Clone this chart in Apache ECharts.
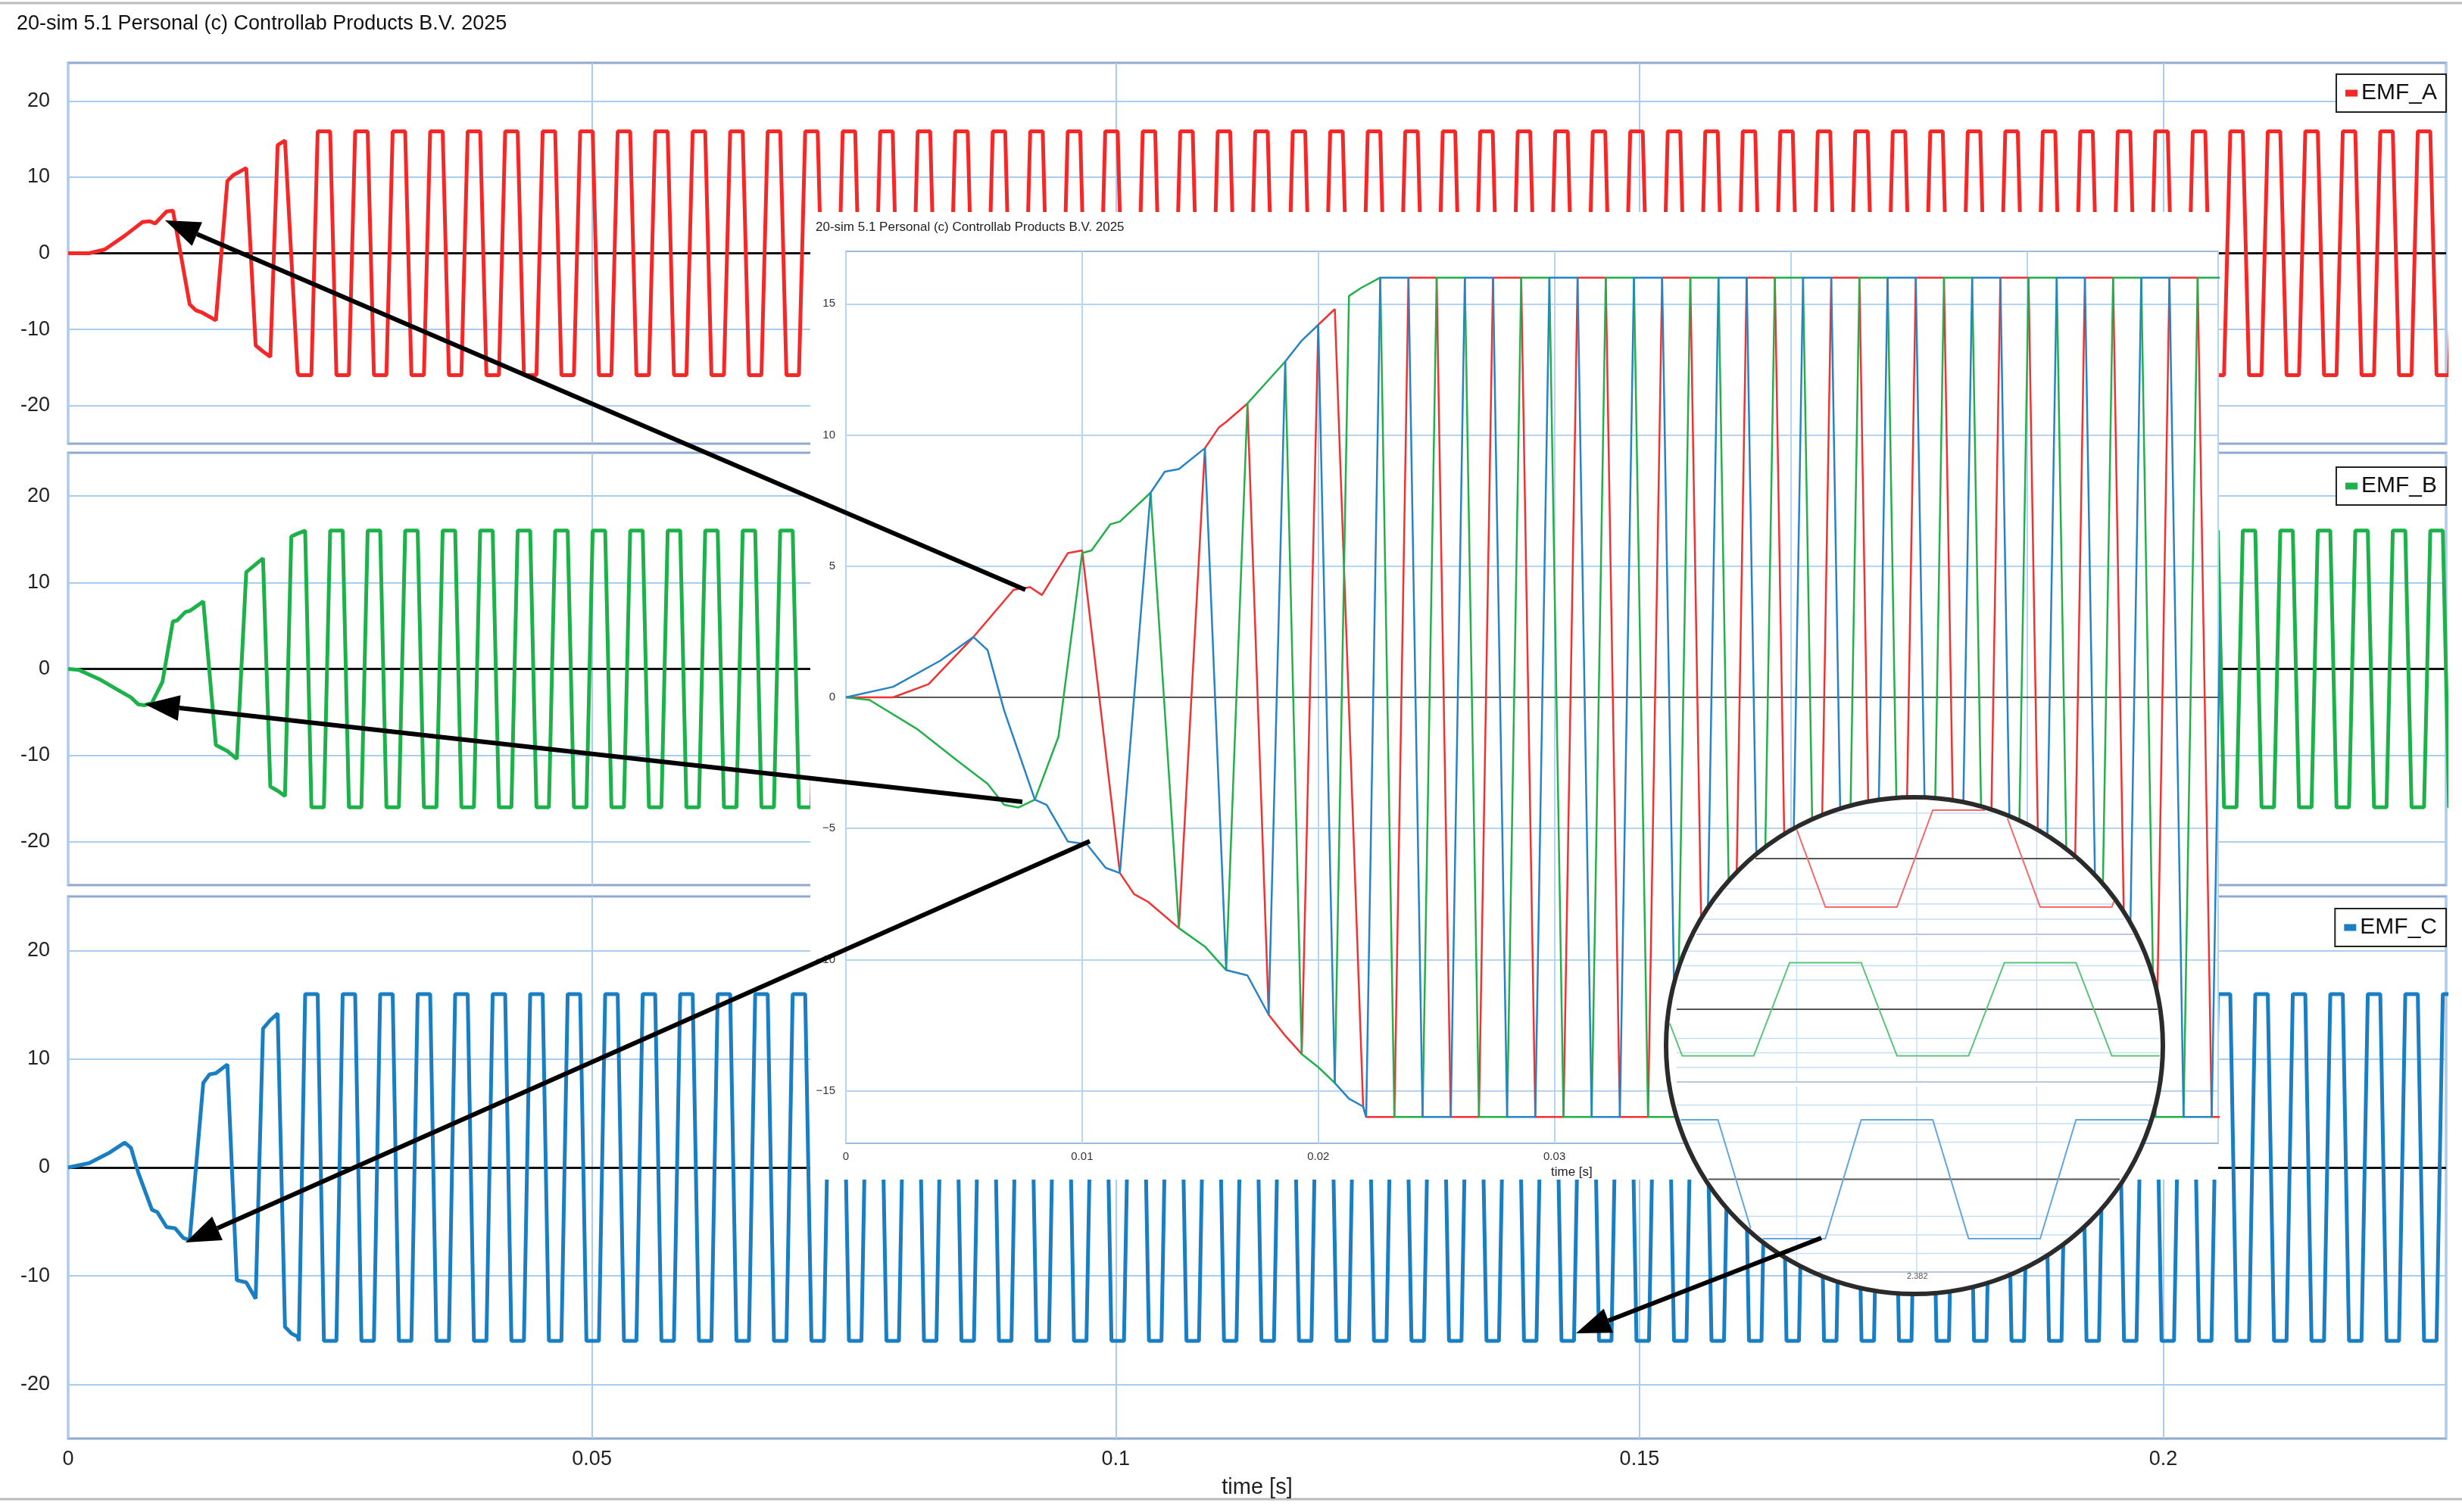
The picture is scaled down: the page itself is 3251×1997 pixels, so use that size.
<!DOCTYPE html><html><head><meta charset="utf-8">
<script src="https://cdn.jsdelivr.net/npm/echarts@6/dist/echarts.min.js"></script>
<style>html,body{margin:0;padding:0;background:#fff}#c{width:3251px;height:1997px}</style>
</head><body><div id="c"></div><script>
const TITLE = '20-sim 5.1 Personal (c) Controllab Products B.V. 2025';
const SERIES_NAMES = ['EMF_A', 'EMF_B', 'EMF_C'];
const Y_TICKS = [20, 10, 0, -10, -20];
const INSET_Y_TICKS = [15, 10, 5, 0, -5, -10, -15];
const X_MAX = 0.227;
const INSET_X_MAX = 0.0581;
// start-up transient: [time s, EMF]
const START_A = [[0,0],[0.002,0],[0.0035,0.5],[0.0054,2.3],[0.0071,4.1],[0.0078,4.2],[0.0083,3.9],[0.0094,5.5],[0.0100,5.6],[0.0116,-6.7],[0.0122,-7.5],[0.0128,-7.8],[0.0141,-8.8],[0.0152,9.5],[0.0158,10.3],[0.0161,10.5],[0.0170,11.2],[0.0179,-12.1],[0.0186,-12.9],[0.0193,-13.6],[0.0200,14.2],[0.0207,14.8],[0.0219,-15.6]];
const START_B = [[0,0],[0.001,-0.1],[0.0030,-1.2],[0.0047,-2.4],[0.0060,-3.3],[0.0067,-4.1],[0.0073,-4.2],[0.0080,-3.9],[0.0090,-1.5],[0.0100,5.5],[0.0104,5.6],[0.0112,6.6],[0.0116,6.7],[0.0129,7.8],[0.0141,-8.8],[0.0152,-9.5],[0.0161,-10.4],[0.0170,11.2],[0.0179,12.1],[0.0186,12.8],[0.0193,-13.6],[0.0200,-14.1],[0.0207,-14.7],[0.0213,15.3],[0.0218,15.6]];
const START_C = [[0,0],[0.002,0.4],[0.0040,1.4],[0.0054,2.3],[0.0060,1.8],[0.0067,-0.5],[0.0080,-3.9],[0.0085,-4.1],[0.0094,-5.5],[0.0102,-5.6],[0.0110,-6.5],[0.0116,-6.7],[0.0129,7.8],[0.0135,8.6],[0.0141,8.7],[0.0152,9.5],[0.0161,-10.4],[0.0170,-10.6],[0.0179,-12.1],[0.0186,12.8],[0.0193,13.6],[0.0200,14.2],[0.0207,-14.7],[0.0213,-15.3],[0.0219,-15.6]];
// steady trapezoidal back-EMF
const PERIOD = 0.00358;
const AMP = 16;
const RISE_A = 0.02352;
const PHASE_SHIFT = [0, 1/3, -1/3];
const TRAP_SHAPE = [[1/12,1],[5/12,1],[7/12,-1],[11/12,-1]];
// magnifier content
const ZOOM_X = [2.3780, 2.38609];
const ZOOM_RISE_A = 2.38197;
const ZOOM_GRID_X = [2.380, 2.382, 2.384];
const ZOOM_LABEL = '2.382';

const COLORS = ['#f52828', '#1db14a', '#1a7fc2'];
const INSET_COLORS = ['#f03232', '#22b04b', '#2583c6'];
const ZOOM_COLORS = ['#f26a6a', '#5cc47a', '#64a5dc'];
const FONT = 'Liberation Sans';
const CIRCLE = {cx: 2528, cy: 1381, r: 328};

function trapezoid(start, rise, t0, t1) {
  const pts = start.slice();
  const last = start.length ? start[start.length-1][0] : t0;
  const k0 = Math.floor((last - rise) / PERIOD) - 1, k1 = Math.ceil((t1 - rise) / PERIOD) + 1;
  for (let k = k0; k <= k1; k++) for (const [f, l] of TRAP_SHAPE) {
    const t = rise + (k + f) * PERIOD;
    if (t > last && t <= t1 + PERIOD) pts.push([t, AMP * l]);
  }
  return pts;
}
const STARTS = [START_A, START_B, START_C];
const WAVES = STARTS.map((s, i) => trapezoid(s, RISE_A + PHASE_SHIFT[i] * PERIOD, 0, X_MAX));
const ZOOM_WAVES = [0,1,2].map(i => trapezoid([], ZOOM_RISE_A + PHASE_SHIFT[i] * PERIOD, ZOOM_X[0] - PERIOD, ZOOM_X[1]).filter(p => p[0] > ZOOM_X[0] - PERIOD));

const MAIN_GRIDS = [{top: 83, height: 503}, {top: 598, height: 571}, {top: 1184, height: 716}];
const ZOOM_GRIDS = [{top: 1034, height: 200}, {top: 1237, height: 192}, {top: 1435, height: 245}];

const grid = [], xAxis = [], yAxis = [], series = [];
MAIN_GRIDS.forEach((g, i) => {
  grid.push({left: 90, right: 21, top: g.top, height: g.height, show: true, borderColor: '#8fa9cf', borderWidth: 3, backgroundColor: '#fff'});
  xAxis.push({gridIndex: i, type: 'value', min: 0, max: X_MAX, interval: 0.05,
    axisLine: {show: false}, axisTick: {show: false},
    splitLine: {show: true, lineStyle: {color: '#a9cdee', width: 2}},
    axisLabel: {show: i === 2, fontSize: 27, color: '#222', fontFamily: FONT, margin: 14, formatter: v => v === 0 ? '0' : String(+v.toFixed(2)), showMaxLabel: false},
    name: i === 2 ? 'time [s]' : '', nameLocation: 'middle', nameGap: 50, nameTextStyle: {fontSize: 29, color: '#222', fontFamily: FONT}});
  yAxis.push({gridIndex: i, type: 'value', min: -25, max: 25,
    axisLine: {show: false}, axisTick: {show: false}, splitLine: {show: false},
    axisLabel: {customValues: Y_TICKS, fontSize: 27, color: '#222', fontFamily: FONT, margin: 24}});
  series.push({type: 'line', xAxisIndex: i, yAxisIndex: i, data: [], z: 1, silent: true,
    markLine: {silent: true, z: 1, symbol: ['none','none'], label: {show: false}, animation: false,
      data: Y_TICKS.map(v => ({yAxis: v, lineStyle: v === 0 ? {color: '#111', width: 3, type: 'solid'} : {color: '#a9cdee', width: 2, type: 'solid'}}))}});
  series.push({name: SERIES_NAMES[i], type: 'line', xAxisIndex: i, yAxisIndex: i, data: WAVES[i], showSymbol: false, z: 2,
    color: COLORS[i], lineStyle: {width: 5, color: COLORS[i]}, animation: false});
});
// inset
const IG = 3;
grid.push({left: 1117, top: 332, width: 1812, height: 1178, show: true, borderColor: '#9fb9dc', borderWidth: 2, z: 6});
xAxis.push({gridIndex: IG, type: 'value', min: 0, max: INSET_X_MAX, interval: 0.01, z: 6,
  axisLine: {show: false}, axisTick: {show: false},
  splitLine: {show: true, lineStyle: {color: '#b4d6f3', width: 2}},
  axisLabel: {fontSize: 15, color: '#333', fontFamily: FONT, margin: 10, showMaxLabel: false, formatter: v => v === 0 ? '0' : String(+v.toFixed(2))}});
yAxis.push({gridIndex: IG, type: 'value', min: -17, max: 17, z: 6,
  axisLine: {show: false}, axisTick: {show: false}, splitLine: {show: false},
  axisLabel: {customValues: INSET_Y_TICKS, fontSize: 15, color: '#333', fontFamily: FONT, margin: 14, formatter: v => v < 0 ? '\u2212' + (-v) : String(v)}});
series.push({type: 'line', xAxisIndex: IG, yAxisIndex: IG, data: [], z: 6, silent: true,
  markLine: {silent: true, symbol: ['none','none'], label: {show: false}, animation: false, z: 6,
    data: INSET_Y_TICKS.map(v => ({yAxis: v, lineStyle: v === 0 ? {color: '#222', width: 1.5, type: 'solid'} : {color: '#b4d6f3', width: 2, type: 'solid'}}))}});
WAVES.forEach((w, i) => series.push({name: 'inset' + i, type: 'line', xAxisIndex: IG, yAxisIndex: IG, data: w.filter(p => p[0] <= INSET_X_MAX + PERIOD), showSymbol: false, z: 7,
  lineStyle: {width: 2.5, color: INSET_COLORS[i]}, animation: false}));

// magnifier
function clipToCircle(pix) {
  const runs = []; let cur = [];
  const inside = p => Math.hypot(p[0] - CIRCLE.cx, p[1] - CIRCLE.cy) <= CIRCLE.r - 3;
  for (let i = 0; i < pix.length - 1; i++) {
    const a = pix[i], b = pix[i+1];
    const n = Math.max(1, Math.ceil(Math.hypot(b[0]-a[0], b[1]-a[1]) / 2));
    for (let s = 0; s <= n; s++) {
      const p = [a[0] + (b[0]-a[0]) * s / n, a[1] + (b[1]-a[1]) * s / n];
      if (inside(p)) cur.push(p); else { if (cur.length > 1) runs.push(cur); cur = []; }
    }
  }
  if (cur.length > 1) runs.push(cur);
  return runs;
}
ZOOM_GRIDS.forEach((g, j) => {
  const gi = 4 + j;
  grid.push({left: 2214, width: 641, top: g.top, height: g.height, show: false});
  xAxis.push({gridIndex: gi, type: 'value', min: ZOOM_X[0], max: ZOOM_X[1], show: false});
  yAxis.push({gridIndex: gi, type: 'value', min: -25, max: 25, show: false});
  series.push({type: 'custom', xAxisIndex: gi, yAxisIndex: gi, z: 31, silent: true, animation: false, clip: false,
    data: [[ZOOM_X[0], 0]],
    renderItem: (params, api) => {
      const children = [];
      const add = (pts, style) => clipToCircle(pts.map(p => api.coord(p))).forEach(r =>
        children.push({type: 'polyline', shape: {points: r}, style: Object.assign({fill: null}, style)}));
      [-20,-15,-10,10,15,20].forEach(v => add([[ZOOM_X[0], v],[ZOOM_X[1], v]], {stroke: '#c5dff5', lineWidth: 1.5}));
      ZOOM_GRID_X.forEach(x => add([[x, -25],[x, 25]], {stroke: '#c5dff5', lineWidth: 1.5}));
      add([[ZOOM_X[0], -25],[ZOOM_X[1], -25]], {stroke: '#b8c8dc', lineWidth: 2});
      add([[ZOOM_X[0], 0],[ZOOM_X[1], 0]], {stroke: '#555', lineWidth: 2});
      add(ZOOM_WAVES[j], {stroke: ZOOM_COLORS[j], lineWidth: 2});
      return {type: 'group', children};
    }});
});

// annotation arrows [from x, from y, to x, to y]
const ARROWS = [[1354,779,218,291],[1350,1059,191,930],[1439,1111,245,1641],[2405,1635,2081,1761]];
const graphic = [
  {type: 'line', shape: {x1: 0, y1: 4, x2: 3251, y2: 4}, style: {stroke: '#bbb', lineWidth: 3}},
  {type: 'line', shape: {x1: 0, y1: 1980, x2: 3251, y2: 1980}, style: {stroke: '#bbb', lineWidth: 3}},
  {type: 'text', left: 22, top: 18, style: {text: TITLE, fontSize: 27, fill: '#111', fontFamily: FONT}},
  {type: 'rect', shape: {x: 1070, y: 280, width: 1859, height: 1278}, style: {fill: '#fff'}, z: 5},
  {type: 'text', x: 1077, y: 292, style: {text: TITLE, fontSize: 17, fill: '#222', fontFamily: FONT}, z: 6},
  {type: 'text', x: 2048, y: 1540, style: {text: 'time [s]', fontSize: 17, fill: '#222', fontFamily: FONT}, z: 6},
  {type: 'circle', shape: {cx: CIRCLE.cx, cy: CIRCLE.cy, r: CIRCLE.r}, style: {fill: '#fff'}, z: 30},
  {type: 'circle', shape: {cx: CIRCLE.cx, cy: CIRCLE.cy, r: CIRCLE.r}, style: {fill: null, stroke: '#2b2b2b', lineWidth: 6}, z: 33},
  {type: 'text', x: 2518, y: 1680, style: {text: ZOOM_LABEL, fontSize: 11, fill: '#555', fontFamily: FONT}, z: 33}
];
ARROWS.forEach(([x1,y1,x2,y2]) => {
  const d = Math.hypot(x2-x1, y2-y1), ux = (x2-x1)/d, uy = (y2-y1)/d, L = 46, W = 17;
  const bx = x2 - ux*L, by = y2 - uy*L;
  graphic.push({type: 'line', shape: {x1, y1, x2: bx, y2: by}, style: {stroke: '#000', lineWidth: 6}, z: 40});
  graphic.push({type: 'polygon', shape: {points: [[x2,y2],[bx - uy*W, by + ux*W],[bx + uy*W, by - ux*W]]}, style: {fill: '#000'}, z: 40});
});

const legend = SERIES_NAMES.map((n, i) => ({data: [n], right: 21, top: [98, 617, 1200][i], icon: 'rect', itemWidth: 16, itemHeight: 9,
  textStyle: {fontSize: 30, color: '#111', fontFamily: FONT}, borderColor: '#222', borderWidth: 2, padding: [10, 12],
  backgroundColor: '#fff', selectedMode: false}));

const chart = echarts.init(document.getElementById('c'));
chart.setOption({animation: false, backgroundColor: '#fff', grid, xAxis, yAxis, series, graphic, legend});
</script></body></html>
